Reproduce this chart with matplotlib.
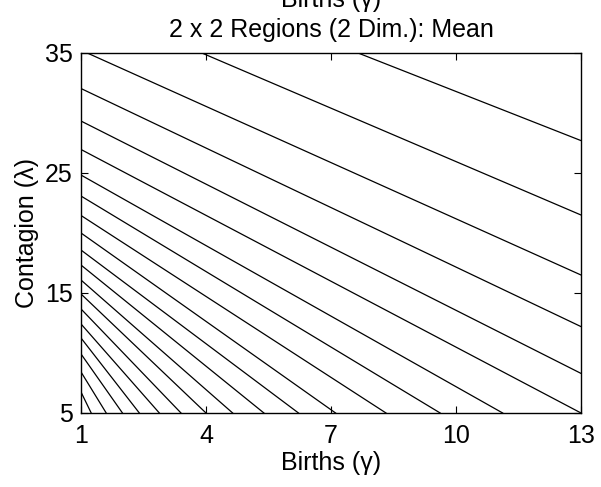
import matplotlib
matplotlib.use('Agg')
import matplotlib.pyplot as plt

plt.rcParams['font.family'] = ['Liberation Sans', 'DejaVu Sans']
font_size = 18

# contour lines, ordered from the top right to the bottom left
# start points: first on the top edge (x at lambda=35), then on the left edge (lambda at gamma=1)
top_start_x = [7.65, 3.9, 1.15]
left_start_y = [32.04, 29.33, 26.96, 24.83, 23.08, 21.46, 20.0, 18.58, 17.33,
                16.08, 14.92, 13.67, 12.42, 11.25, 9.92, 8.42, 6.75]
# end points: first on the right edge (lambda at gamma=13), then on the bottom edge (gamma at lambda=5)
right_end_y = [27.7, 21.5, 16.5, 12.2, 8.3]
bottom_end_x = [13.0, 11.12, 9.62, 8.32, 7.11, 6.22, 5.39, 4.64, 4.0, 3.40,
                2.88, 2.40, 1.995, 1.605, 1.245]

x_min, x_max = 1, 13
y_min, y_max = 5, 35
x_ticks = [1, 4, 7, 10, 13]
y_ticks = [5, 15, 25, 35]

starts = [(x, y_max) for x in top_start_x] + [(x_min, y) for y in left_start_y]
ends = [(x_max, y) for y in right_end_y] + [(x, y_min) for x in bottom_end_x]

fig = plt.figure(figsize=(6.01, 4.87), dpi=100)
ax = fig.add_axes([81 / 601, 1 - 413 / 487, 500 / 601, 360 / 487])

for (x0, y0), (x1, y1) in zip(starts, ends):
    ax.plot([x0, x1], [y0, y1], color='black', linewidth=0.9)

ax.set_xlim(x_min, x_max)
ax.set_ylim(y_min, y_max)
ax.set_xticks(x_ticks)
ax.set_yticks(y_ticks)
ax.tick_params(direction='in', length=5, width=0.8, top=True, right=True,
               labelsize=font_size)
ax.tick_params(axis='x', pad=8)
ax.tick_params(axis='y', pad=6)
for s in ax.spines.values():
    s.set_linewidth(1.0)

ax.set_xlabel('Births (\u03b3)', fontsize=font_size, labelpad=2)
ax.set_ylabel('Contagion (\u03bb)', fontsize=font_size, labelpad=4)

fig.text(0.551, 1 - 37 / 487, '2 x 2 Regions (2 Dim.): Mean', fontsize=font_size,
         ha='center', va='baseline')
fig.text(0.551, 1 - 7 / 487, 'Births (\u03b3)', fontsize=font_size,
         ha='center', va='baseline')

fig.savefig('out.png', dpi=100)
